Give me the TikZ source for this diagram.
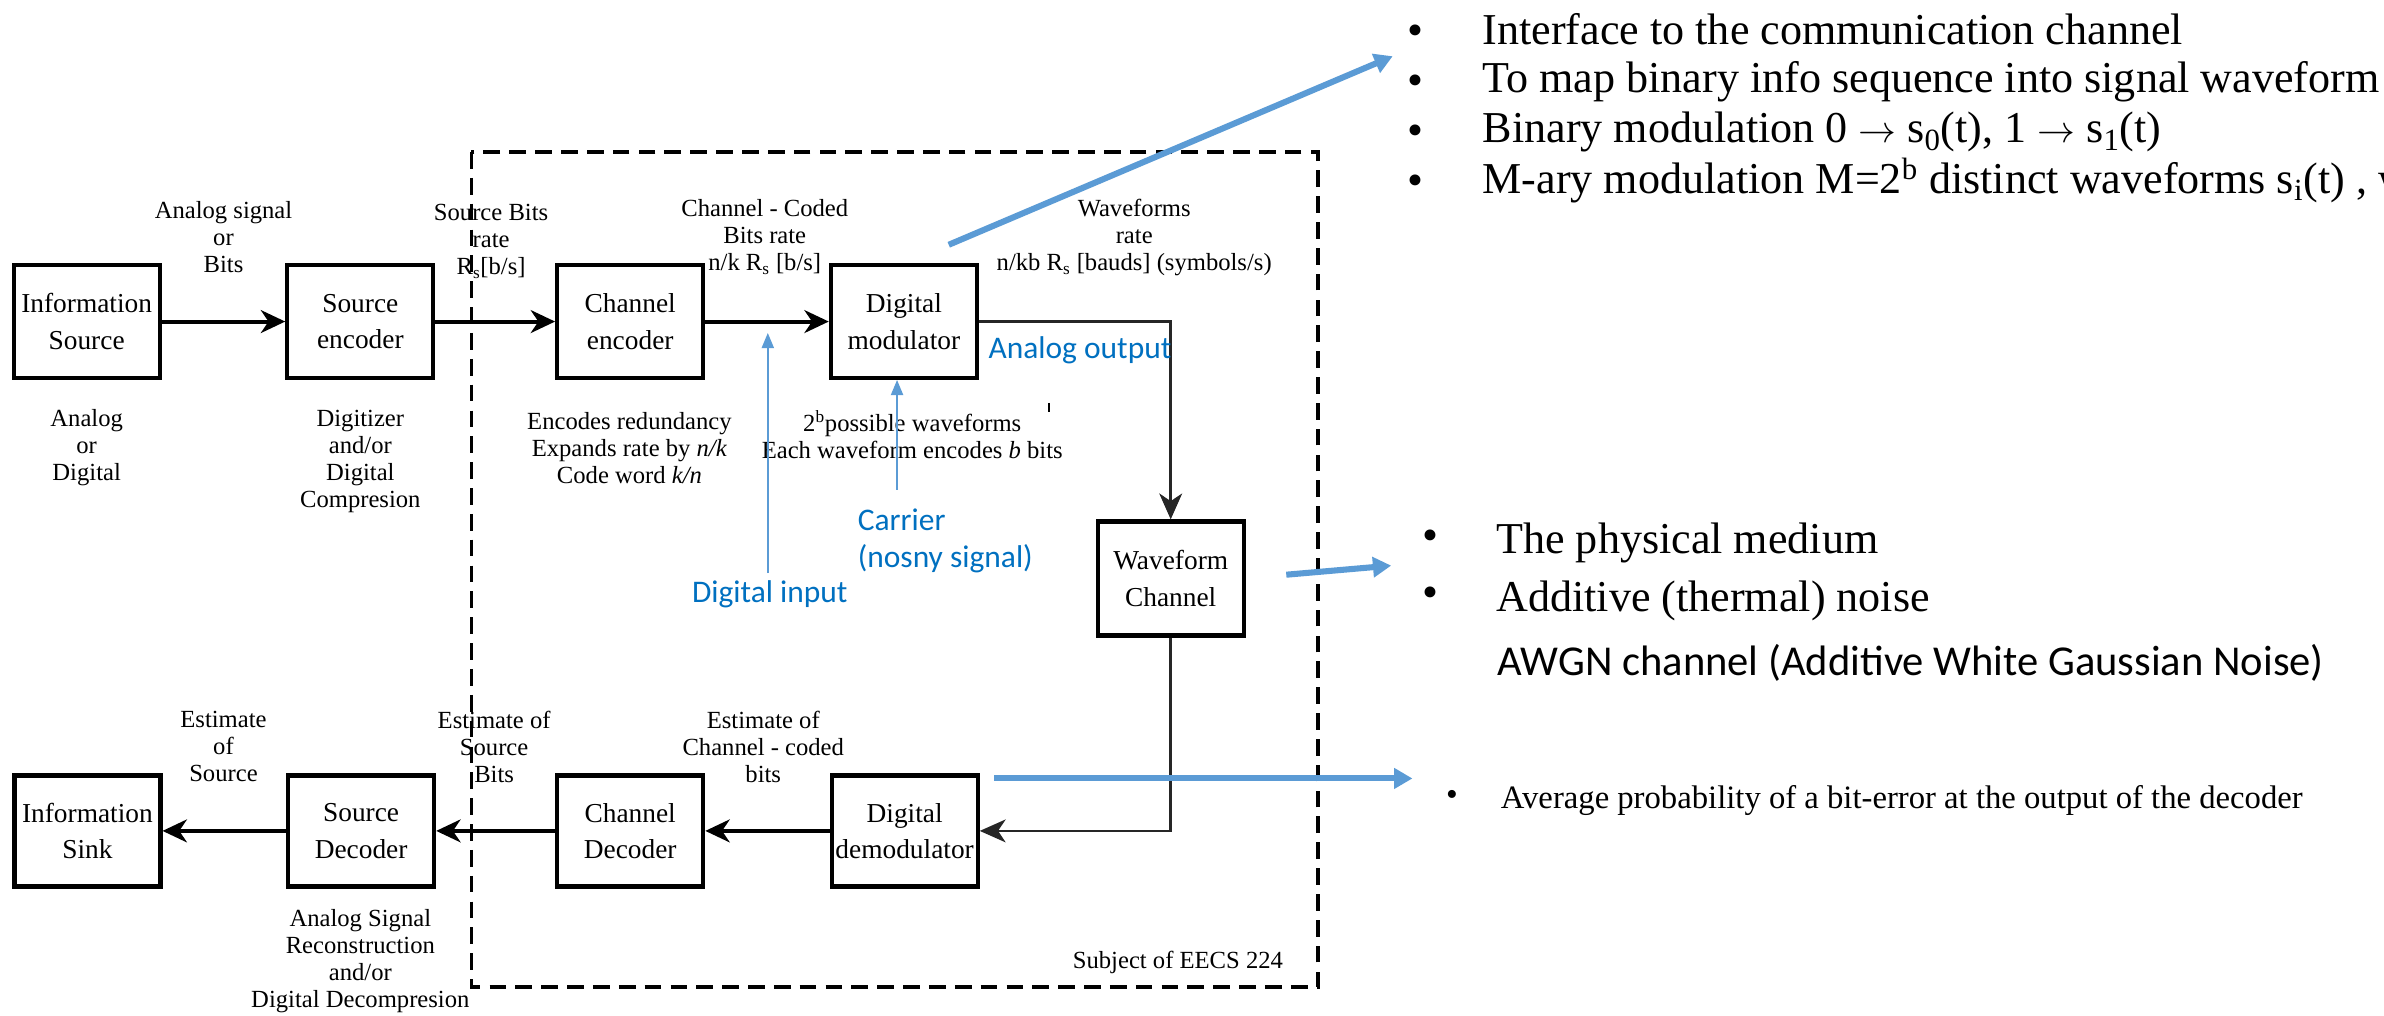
\documentclass[tikz,border=0pt]{standalone}
\usepackage{fontspec}
\setmainfont{Liberation Serif}
\newfontfamily\calib{Carlito}
\usetikzlibrary{arrows.meta}
\definecolor{annoline}{HTML}{5B9BD5}
\definecolor{annotext}{HTML}{0070C0}
\begin{document}
\begin{tikzpicture}[x=1pt,y=-1pt,
  blk/.style={draw=black, line width=2.8pt, minimum width=96pt, minimum height=74pt,
    inner sep=0pt, align=center, font=\fontsize{18}{24}\selectfont},
  lbl/.style={align=center, inner sep=0pt, font=\fontsize{16.2}{17.8}\selectfont},
  conn/.style={line width=2.6pt, -{Stealth[length=16pt,width=15pt,inset=5pt]}},
  wconn/.style={line width=1.8pt, draw=black!85, -{Stealth[length=17pt,width=15pt,inset=5pt]}},
  dashbox/.style={line width=2.4pt, dash pattern=on 11pt off 6pt},
  thinblue/.style={draw=annoline, line width=1.2pt, -{Triangle[length=10pt,width=8pt]}},
  thickblue/.style={draw=annoline, line width=4pt, -{Triangle[length=12pt,width=13pt]}},
  bluetxt/.style={inner sep=0pt, text=annotext, font=\calib\fontsize{20.7}{24}\selectfont},
  bigtxt/.style={inner sep=0pt, anchor=base west, font=\fontsize{29}{33}\selectfont},
  bul/.style={inner sep=0pt, font=\fontsize{30}{30}\selectfont}
]
\useasboundingbox (0,0) rectangle (1568,668);

% dashed subject box
\draw[dashbox] (310,100) rectangle (867,649);
\node[lbl, anchor=east] (subj) at (844,633) {Subject of EECS 224};

% top row
\node[blk] (src)  at (57,211.5)    {Information\\Source};
\node[blk] (senc) at (237,211.5)   {Source\\encoder};
\node[blk] (cenc) at (414.5,211.5) {Channel\\encoder};
\node[blk] (mod)  at (594.5,211.5) {Digital\\modulator};
\node[blk, minimum height=75pt] (wc) at (770,380.5) {Waveform\\Channel};
% bottom row
\node[blk, minimum height=73pt] (dem)  at (595,546.5)   {Digital\\demodulator};
\node[blk, minimum height=73pt] (cdec) at (414.5,546.5) {Channel\\Decoder};
\node[blk, minimum height=73pt] (sdec) at (237.5,546.5) {Source\\Decoder};
\node[blk, minimum height=73pt] (sink) at (57.5,546.5)  {Information\\Sink};

% connectors
\draw[conn] (src) -- (senc);
\draw[conn] (senc) -- (cenc);
\draw[conn] (cenc) -- (mod);
\draw[wconn] (mod.east) -| (wc.north);
\draw[wconn] (wc.south) |- (dem.east);
\draw[conn] (dem) -- (cdec);
\draw[conn] (cdec) -- (sdec);
\draw[conn] (sdec) -- (sink);

% labels top
\node[lbl] (l1) at (147,156) {Analog signal\\or\\Bits};
\node[lbl] (l2) at (323,159) {Source Bits\\rate\\R\textsubscript{s}[b/s]};
\node[lbl] (l3) at (503,156) {Channel - Coded\\Bits rate\\n/k R\textsubscript{s} [b/s]};
\node[lbl] (l4) at (746,156) {Waveforms\\rate\\n/kb R\textsubscript{s} [bauds] (symbols/s)};
\node[lbl] (l5) at (57,294.5) {Analog\\or\\Digital};
\node[lbl] (l6) at (237,303.5) {Digitizer\\and/or\\Digital\\Compresion};
\node[lbl] (l7) at (414,294.5) {Encodes redundancy\\Expands rate by \textit{n/k}\\Code word \textit{k/n}};
\node[lbl] (l8) at (600,286) {2\textsuperscript{b}possible waveforms\\Each waveform encodes \textit{b} bits};
\draw[line width=1.2pt] (690,265) -- (690,271);
% labels bottom
\node[lbl] (l9) at (147,491) {Estimate\\of\\Source};
\node[lbl] (l10) at (325,491) {Estimate of\\Source\\Bits};
\node[lbl] (l11) at (502,491) {Estimate of\\Channel - coded\\bits};
\node[lbl] (l12) at (237,632) {Analog Signal\\Reconstruction\\and/or\\Digital Decompresion};

% blue annotations
\coordinate (dinb) at (505,377);
\coordinate (dint) at (505,219);
\draw[thinblue] (dinb) -- (dint);
\coordinate (carb) at (590,322);
\draw[thinblue] (carb) -- (carb |- mod.south);
\node[bluetxt, anchor=base west] (aout) at (650,236) {Analog output};
\node[bluetxt, anchor=base west] (car1) at (564,349) {Carrier};
\node[bluetxt, anchor=base west] (car2) at (564,373.5) {(nosny signal)};
\node[bluetxt, anchor=base west] (dinp) at (455,396) {Digital input};

% thick blue arrows
\coordinate (a1s) at (624,161);
\coordinate (a1e) at (916,37);
\draw[thickblue] (a1s) -- (a1e);
\coordinate (a2s) at (846,378);
\coordinate (a2e) at (915,372);
\draw[thickblue] (a2s) -- (a2e);
\coordinate (a3s) at (654,512);
\coordinate (a3e) at (929,512);
\draw[thickblue] (a3s) -- (a3e);

% right text: modulator
\node[bul] (b1) at (931,23) {•};
\node[bul] (b2) at (931,56) {•};
\node[bul] (b3) at (931,89) {•};
\node[bul] (b4) at (931,122) {•};
\node[bigtxt] (t1) at (975,29) {Interface to the communication channel};
\node[bigtxt] (t2) at (975,61) {To map binary info sequence into signal waveform};
\node[bigtxt] (t3) at (975,94) {Binary modulation 0 $\rightarrow$ s\textsubscript{0}(t), 1 $\rightarrow$ s\textsubscript{1}(t)};
\node[bigtxt] (t4) at (975,127) {M-ary modulation M=2\textsuperscript{b} distinct waveforms s\textsubscript{i}(t) , w};
% right text: channel
\node[bul] (b5) at (941,355) {•};
\node[bul] (b6) at (941,393) {•};
\node[bigtxt] (t5) at (984,364) {The physical medium};
\node[bigtxt] (t6) at (984,402) {Additive (thermal) noise};
\node[bigtxt, font=\calib\fontsize{28}{33}\selectfont] (t7) at (985,444) {AWGN channel (Additive White Gaussian Noise)};
% right text: demodulator
\node[bul, font=\fontsize{22}{22}\selectfont] (b7) at (955,525) {•};
\node[bigtxt, font=\fontsize{21.5}{25}\selectfont] (t8) at (987,531.5) {Average probability of a bit-error at the output of the decoder};
\end{tikzpicture}
\end{document}
